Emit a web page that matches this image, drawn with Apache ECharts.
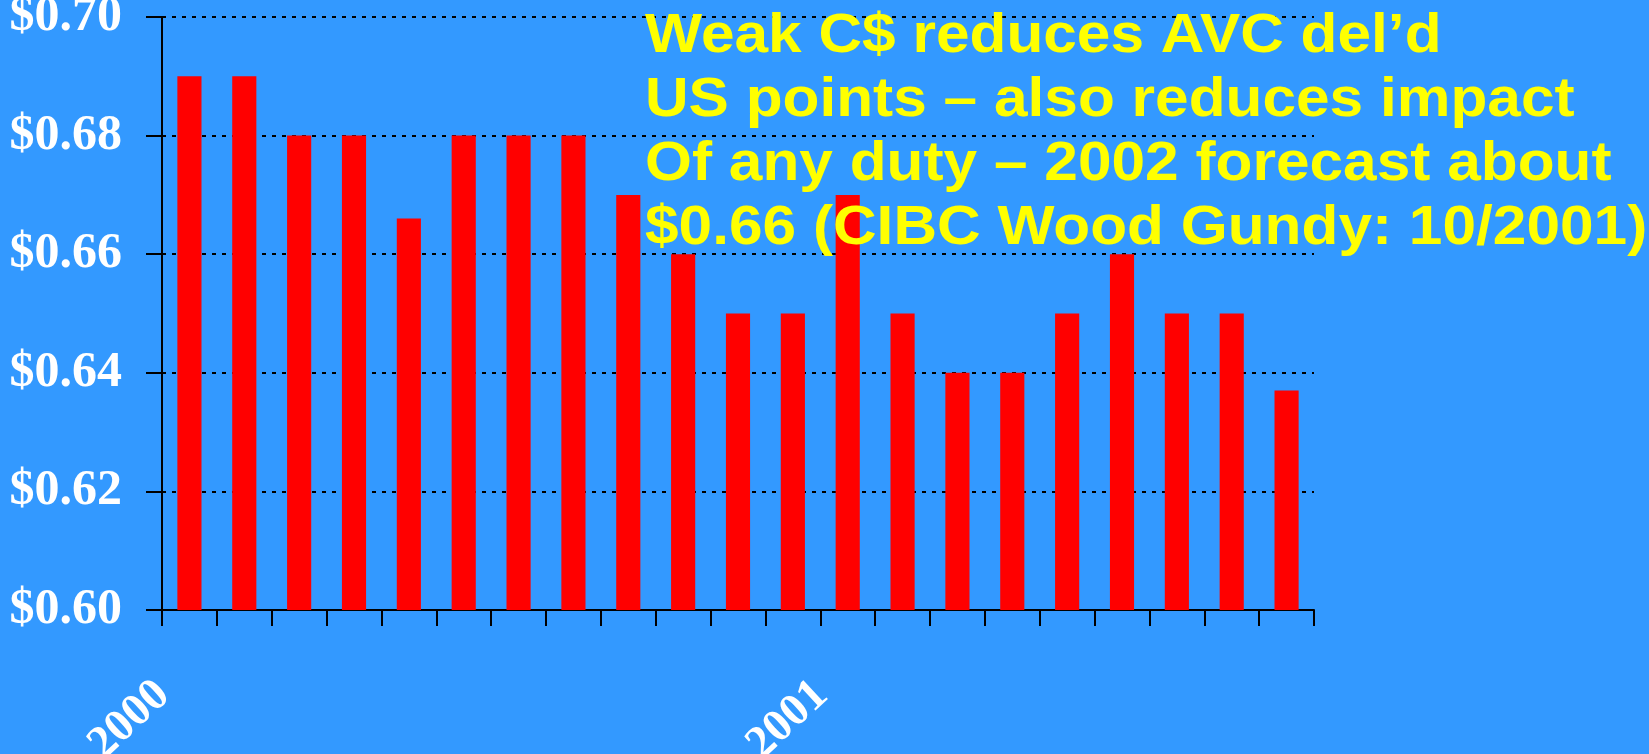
<!DOCTYPE html>
<html>
<head>
<meta charset="utf-8">
<script src="https://cdn.jsdelivr.net/npm/echarts@6/dist/echarts.min.js"></script>
<style>
html,body{margin:0;padding:0;background:#3399FF;}
#chart{width:1649px;height:754px;}
</style>
</head>
<body>
<div id="chart"></div>
<script>
// Monthly categories, Jan 2000 – Sep 2001
const categories = ['Jan-00','Feb-00','Mar-00','Apr-00','May-00','Jun-00','Jul-00','Aug-00','Sep-00','Oct-00','Nov-00','Dec-00',
                    'Jan-01','Feb-01','Mar-01','Apr-01','May-01','Jun-01','Jul-01','Aug-01','Sep-01'];
// C$ value in US$
const values = [0.690,0.690,0.680,0.680,0.666,0.680,0.680,0.680,0.670,0.660,0.650,0.650,
                0.670,0.650,0.640,0.640,0.650,0.660,0.650,0.650,0.637];
// x tick labels (year marks)
const xTickLabels = ['2000','','','','','','','','','','','','2001','','','','','','','',''];
// title lines
const titleLines = [
  'Weak C$ reduces AVC del\u2019d',
  'US points \u2013 also reduces impact',
  'Of any duty \u2013 2002 forecast about',
  '$0.66 (CIBC Wood Gundy: 10/2001)'
];
const yMin = 0.60, yMax = 0.70, yStep = 0.02;

const chart = echarts.init(document.getElementById('chart'));
const titleFont = 'bold 55px "Liberation Sans", Arial, Helvetica, sans-serif';
const lineY = [37, 101, 165, 229];

chart.setOption({
  backgroundColor: '#3399FF',
  animation: false,
  grid: {left: 162, right: 335, top: 17, bottom: 144, containLabel: false, outerBoundsMode: 'none'},
  xAxis: {
    type: 'category',
    data: categories,
    boundaryGap: true,
    axisLine: {show: true, lineStyle: {color: '#000', width: 2}},
    axisTick: {show: true, interval: 0, length: 16, lineStyle: {color: '#000', width: 2}},
    axisLabel: {
      interval: 0,
      rotate: 43,
      margin: 54,
      padding: [0, 36, 0, 0],
      color: '#fff',
      fontFamily: '"Liberation Serif", "Times New Roman", serif',
      fontWeight: 'bold',
      fontSize: 46,
      hideOverlap: false,
      formatter: (v, i) => xTickLabels[i]
    },
    splitLine: {show: false}
  },
  yAxis: {
    type: 'value',
    min: yMin, max: yMax, interval: yStep,
    axisLine: {show: true, lineStyle: {color: '#000', width: 2}},
    axisTick: {show: true, length: 16, lineStyle: {color: '#000', width: 2}},
    axisLabel: {
      margin: 40,
      color: '#fff',
      fontFamily: '"Liberation Serif", "Times New Roman", serif',
      fontWeight: 'bold',
      fontSize: 50,
      formatter: v => '$' + v.toFixed(2)
    },
    splitLine: {show: true, lineStyle: {color: '#000', width: 2, type: [4, 6]}}
  },
  series: [{
    type: 'bar',
    data: values,
    barWidth: '44%',
    itemStyle: {color: '#FF0000'}
  }],
  graphic: titleLines.map((t, i) => ({
    type: 'text',
    x: 645, y: lineY[i],
    scaleX: 1.098,
    z: 100,
    style: {text: t, font: titleFont, fill: '#FFFF00', verticalAlign: 'middle', align: 'left'}
  }))
});
</script>
</body>
</html>
